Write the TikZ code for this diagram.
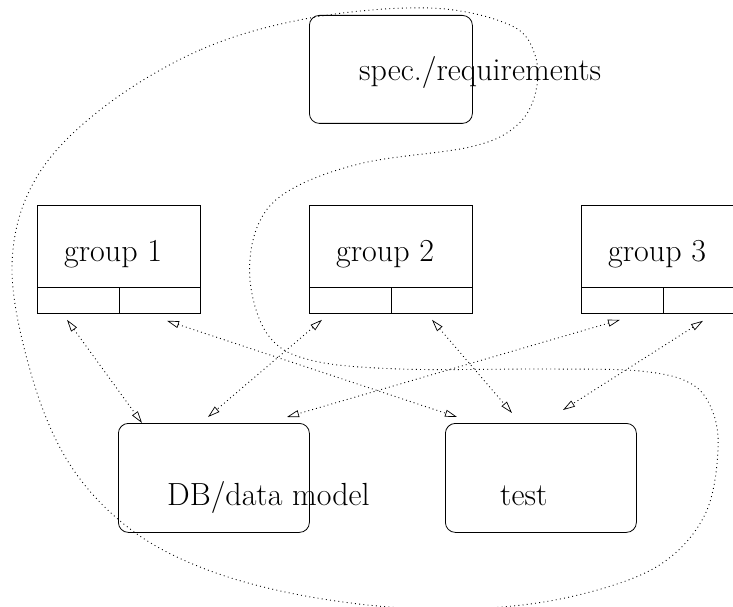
\documentclass[tikz,border=0pt]{standalone}
\usetikzlibrary{arrows.meta,calc}
\begin{document}
\begin{tikzpicture}[x=1pt,y=-1pt,
  box/.style={draw, line width=0.8pt, minimum width=163pt, minimum height=108pt, inner sep=0pt, anchor=north west},
  rbox/.style={box, rounded corners=10pt},
  sbox/.style={box},
  lbl/.style={anchor=base west, inner sep=0pt, font=\fontsize{32}{38}\selectfont},
  div/.style={line width=0.8pt},
  tip/.tip={Triangle[open,length=12pt,width=7pt,line width=0.7pt]},
  link/.style={line width=0.9pt, dash pattern=on 0.9pt off 3.1pt, tip-tip},
  lasso/.style={line width=0.9pt, dash pattern=on 0.9pt off 3.3pt}]
\useasboundingbox (0,0) rectangle (733,607);
% boxes
\node[rbox] (spec) at (309,15) {};
\node[sbox] (g1) at (37,205) {};
\node[sbox] (g2) at (309,205) {};
\node[sbox] (g3) at (581,205) {};
\node[rbox, minimum width=191pt, minimum height=109pt] (db) at (118,423) {};
\node[rbox, minimum width=191pt, minimum height=109pt] (test) at (445,423) {};
% dividers
\foreach \g in {g1,g2,g3}{
  \draw[div] ($(\g.south west)+(0,-26)$) -- ($(\g.south east)+(0,-26)$);
  \draw[div] ($(\g.south)+(0,-26)$) -- (\g.south);
}
% labels
\node[lbl] (tspec) at (359,81) {spec./requirements};
\node[lbl] (tg1) at (64,261) {group 1};
\node[lbl] (tg2) at (336,261) {group 2};
\node[lbl] (tg3) at (608,261) {group 3};
\node[lbl] (tdb) at (167,505) {DB/data model};
\node[lbl] (ttest) at (500,505) {test};
% links
\draw[link] ($(g1.south west)+(30,6)$) -- ($(db.north west)+(24,0)$);
\draw[link] ($(g1.south west)+(130,7)$) -- ($(test.north west)+(12,-6)$);
\draw[link] ($(g2.south west)+(13,6)$) -- ($(db.north west)+(90,-6)$);
\draw[link] ($(g2.south west)+(123,6)$) -- ($(test.north west)+(67,-10)$);
\draw[link] ($(g3.south west)+(39,6)$) -- ($(db.north west)+(169,-6)$);
\draw[link] ($(g3.south west)+(122,7)$) -- ($(test.north west)+(118,-13)$);
% lasso
\draw[lasso] plot[smooth cycle, tension=0.6] coordinates {
(310,18) (200,50) (100,110) (35,180) (12,265) (30,370) (67,460)
(125,525) (200,567) (300,595) (420,609) (530,604) (620,583) (673,555)
(707,510) (718,450) (712,410) (690,383) (640,371) (550,369) (400,369)
(310,360) (268,335) (250,280) (258,225) (290,190) (363,163) (470,147)
(515,127) (535,95) (535,55) (510,25) (430,8)};
\end{tikzpicture}
\end{document}
